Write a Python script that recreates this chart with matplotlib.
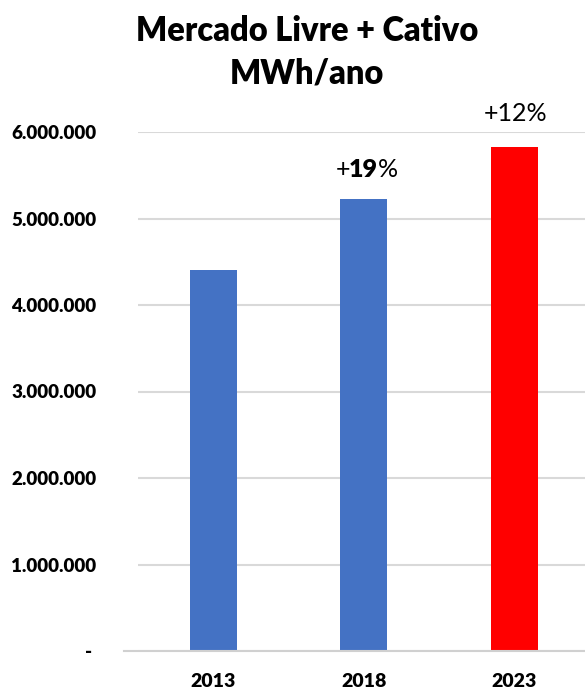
import matplotlib
matplotlib.use("Agg")
import matplotlib.pyplot as plt
from matplotlib.ticker import FixedLocator

plt.rcParams['font.family'] = ['Lato', 'DejaVu Sans']

categories = ['2013', '2018', '2023']
values = [4400000, 5225000, 5830000]
colors = ['#4472C4', '#4472C4', '#FF0000']
y_ticks = [0, 1000000, 2000000, 3000000, 4000000, 5000000, 6000000]
y_tick_labels = ['- ', '1.000.000', '2.000.000', '3.000.000', '4.000.000', '5.000.000', '6.000.000']
title = 'Mercado Livre + Cativo\nMWh/ano'

W, H = 585, 691
fig = plt.figure(figsize=(W / 100, H / 100), dpi=100)
ax = fig.add_axes([138 / W, 40 / H, 451.5 / W, 519 / H])

x = range(len(categories))
ax.bar(x, values, width=0.31, color=colors, zorder=3)
ax.set_xlim(-0.5, 2.5)
ax.set_ylim(0, 6000000)
ax.set_xticks(list(x))
ax.set_xticklabels(categories, fontsize=14, fontweight='heavy')
ax.yaxis.set_major_locator(FixedLocator(y_ticks))
ax.set_yticklabels(y_tick_labels, fontsize=13.5, fontweight='heavy')
ax.tick_params(axis='both', length=0)
ax.tick_params(axis='y', pad=30)
ax.tick_params(axis='x', pad=16)
ax.grid(axis='y', color='#d9d9d9', linewidth=1.5, zorder=0)
for s in ['top', 'right', 'left', 'bottom']:
    ax.spines[s].set_visible(False)
# horizontal axis line (extends slightly left of the plot area)
ax.plot([-14 / 451.5, 1], [0, 0], transform=ax.transAxes, color='#d0d0d0',
        linewidth=1.5, clip_on=False, zorder=4)

# annotations
ax.annotate('+', xy=(1, values[1]), xytext=(-9.5, 21), textcoords='offset points',
            ha='right', va='center', fontsize=18, annotation_clip=False)
ax.annotate('19', xy=(1, values[1]), xytext=(0, 21), textcoords='offset points',
            ha='center', va='center', fontsize=18, fontweight='heavy', annotation_clip=False)
ax.annotate('%', xy=(1, values[1]), xytext=(10, 21), textcoords='offset points',
            ha='left', va='center', fontsize=18, annotation_clip=False)
ax.annotate('+12%', xy=(2, values[2]), xytext=(1, 24), textcoords='offset points',
            ha='center', va='center', fontsize=18, annotation_clip=False)

fig.text(307 / W, 1 - 52 / H, title, ha='center', va='center', fontsize=23.5,
         fontweight='heavy', linespacing=1.4)

fig.savefig('out.png', dpi=100)
